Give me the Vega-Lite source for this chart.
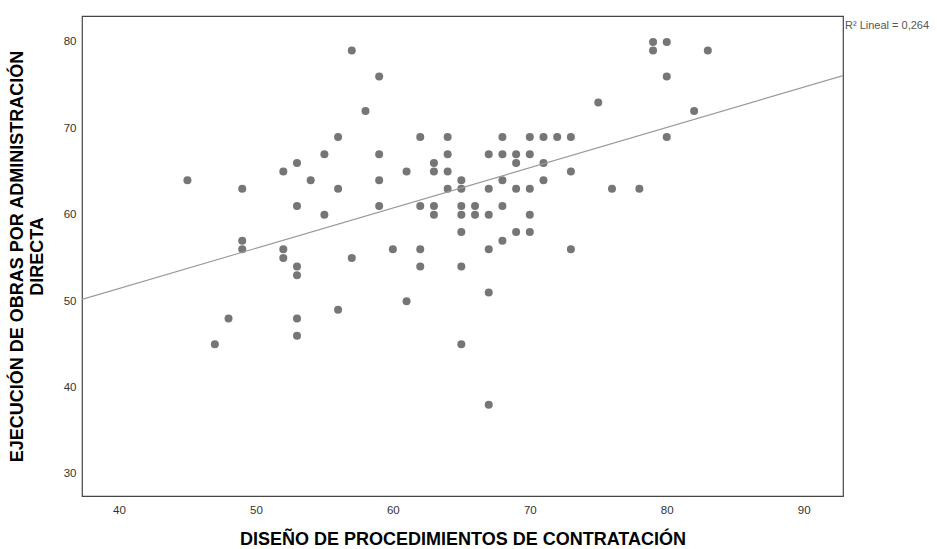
{
  "$schema": "https://vega.github.io/schema/vega-lite/v6.json",
  "width": 761,
  "height": 480,
  "autosize": {"type": "none"},
  "padding": {"left": 82, "top": 16, "right": 94, "bottom": 53},
  "background": "white",
  "config": {
    "view": {"stroke": "#444444", "strokeWidth": 1.2},
    "font": "Liberation Sans",
    "axis": {
      "grid": false,
      "domain": false,
      "ticks": false,
      "labelFont": "Liberation Sans",
      "labelFontSize": 11.5,
      "labelColor": "#333333",
      "titleFont": "Liberation Sans",
      "titleFontSize": 18,
      "titleFontWeight": "bold",
      "titleColor": "#000000"
    }
  },
  "datasets": {
    "points": [
      {"diseno": 57, "ejecucion": 79}, {"diseno": 59, "ejecucion": 76}, {"diseno": 58, "ejecucion": 72},
      {"diseno": 56, "ejecucion": 69}, {"diseno": 55, "ejecucion": 67}, {"diseno": 59, "ejecucion": 67},
      {"diseno": 53, "ejecucion": 66}, {"diseno": 52, "ejecucion": 65}, {"diseno": 45, "ejecucion": 64},
      {"diseno": 49, "ejecucion": 63}, {"diseno": 54, "ejecucion": 64}, {"diseno": 56, "ejecucion": 63},
      {"diseno": 59, "ejecucion": 64}, {"diseno": 53, "ejecucion": 61}, {"diseno": 55, "ejecucion": 60},
      {"diseno": 59, "ejecucion": 61}, {"diseno": 49, "ejecucion": 57}, {"diseno": 49, "ejecucion": 56},
      {"diseno": 52, "ejecucion": 56}, {"diseno": 52, "ejecucion": 55}, {"diseno": 57, "ejecucion": 55},
      {"diseno": 53, "ejecucion": 54}, {"diseno": 53, "ejecucion": 53}, {"diseno": 56, "ejecucion": 49},
      {"diseno": 48, "ejecucion": 48}, {"diseno": 53, "ejecucion": 48}, {"diseno": 53, "ejecucion": 46},
      {"diseno": 47, "ejecucion": 45}, {"diseno": 60, "ejecucion": 56}, {"diseno": 62, "ejecucion": 56},
      {"diseno": 61, "ejecucion": 65}, {"diseno": 62, "ejecucion": 69}, {"diseno": 62, "ejecucion": 61},
      {"diseno": 63, "ejecucion": 66}, {"diseno": 63, "ejecucion": 65}, {"diseno": 63, "ejecucion": 61},
      {"diseno": 63, "ejecucion": 60}, {"diseno": 64, "ejecucion": 69}, {"diseno": 64, "ejecucion": 67},
      {"diseno": 64, "ejecucion": 65}, {"diseno": 64, "ejecucion": 63}, {"diseno": 65, "ejecucion": 64},
      {"diseno": 65, "ejecucion": 63}, {"diseno": 65, "ejecucion": 61}, {"diseno": 65, "ejecucion": 60},
      {"diseno": 65, "ejecucion": 58}, {"diseno": 66, "ejecucion": 61}, {"diseno": 66, "ejecucion": 60},
      {"diseno": 67, "ejecucion": 67}, {"diseno": 67, "ejecucion": 63}, {"diseno": 67, "ejecucion": 60},
      {"diseno": 67, "ejecucion": 56}, {"diseno": 68, "ejecucion": 69}, {"diseno": 68, "ejecucion": 67},
      {"diseno": 68, "ejecucion": 64}, {"diseno": 68, "ejecucion": 61}, {"diseno": 68, "ejecucion": 57},
      {"diseno": 69, "ejecucion": 67}, {"diseno": 69, "ejecucion": 66}, {"diseno": 69, "ejecucion": 63},
      {"diseno": 69, "ejecucion": 58}, {"diseno": 70, "ejecucion": 69}, {"diseno": 70, "ejecucion": 67},
      {"diseno": 70, "ejecucion": 63}, {"diseno": 70, "ejecucion": 60}, {"diseno": 70, "ejecucion": 58},
      {"diseno": 71, "ejecucion": 69}, {"diseno": 71, "ejecucion": 66}, {"diseno": 71, "ejecucion": 64},
      {"diseno": 72, "ejecucion": 69}, {"diseno": 73, "ejecucion": 69}, {"diseno": 73, "ejecucion": 65},
      {"diseno": 73, "ejecucion": 56}, {"diseno": 75, "ejecucion": 73}, {"diseno": 76, "ejecucion": 63},
      {"diseno": 78, "ejecucion": 63}, {"diseno": 79, "ejecucion": 80}, {"diseno": 79, "ejecucion": 79},
      {"diseno": 80, "ejecucion": 80}, {"diseno": 80, "ejecucion": 76}, {"diseno": 80, "ejecucion": 69},
      {"diseno": 83, "ejecucion": 79}, {"diseno": 82, "ejecucion": 72}, {"diseno": 62, "ejecucion": 54},
      {"diseno": 65, "ejecucion": 54}, {"diseno": 67, "ejecucion": 51}, {"diseno": 61, "ejecucion": 50},
      {"diseno": 65, "ejecucion": 45}, {"diseno": 67, "ejecucion": 38}
    ],
    "fit": [
      {"diseno": 37.3, "ejecucion": 50.2},
      {"diseno": 92.87, "ejecucion": 76.1}
    ],
    "note": [
      {"label": "R² Lineal = 0,264"}
    ]
  },
  "layer": [
    {
      "data": {"name": "points"},
      "mark": {"type": "circle", "size": 64, "color": "#767676", "opacity": 1},
      "encoding": {
        "x": {
          "field": "diseno", "type": "quantitative",
          "scale": {"domain": [37.3, 92.87], "nice": false, "zero": false},
          "axis": {"values": [40, 50, 60, 70, 80, 90], "labelPadding": 8, "titlePadding": 15,
                   "title": "DISEÑO DE PROCEDIMIENTOS DE CONTRATACIÓN"}
        },
        "y": {
          "field": "ejecucion", "type": "quantitative",
          "scale": {"domain": [27.45, 83.0], "nice": false, "zero": false},
          "axis": {"values": [30, 40, 50, 60, 70, 80], "labelPadding": 6, "titlePadding": 17,
                   "title": ["EJECUCIÓN DE OBRAS POR ADMINISTRACIÓN", "DIRECTA"]}
        }
      }
    },
    {
      "data": {"name": "fit"},
      "mark": {"type": "line", "color": "#999999", "strokeWidth": 1.1, "clip": true},
      "encoding": {
        "x": {"field": "diseno", "type": "quantitative"},
        "y": {"field": "ejecucion", "type": "quantitative"}
      }
    },
    {
      "data": {"name": "note"},
      "mark": {"type": "text", "align": "left", "baseline": "alphabetic",
               "dx": 2, "dy": 13, "fontSize": 11, "color": "#555555", "clip": false},
      "encoding": {
        "text": {"field": "label"},
        "x": {"datum": 92.87, "type": "quantitative"},
        "y": {"datum": 83.0, "type": "quantitative"}
      }
    }
  ]
}
